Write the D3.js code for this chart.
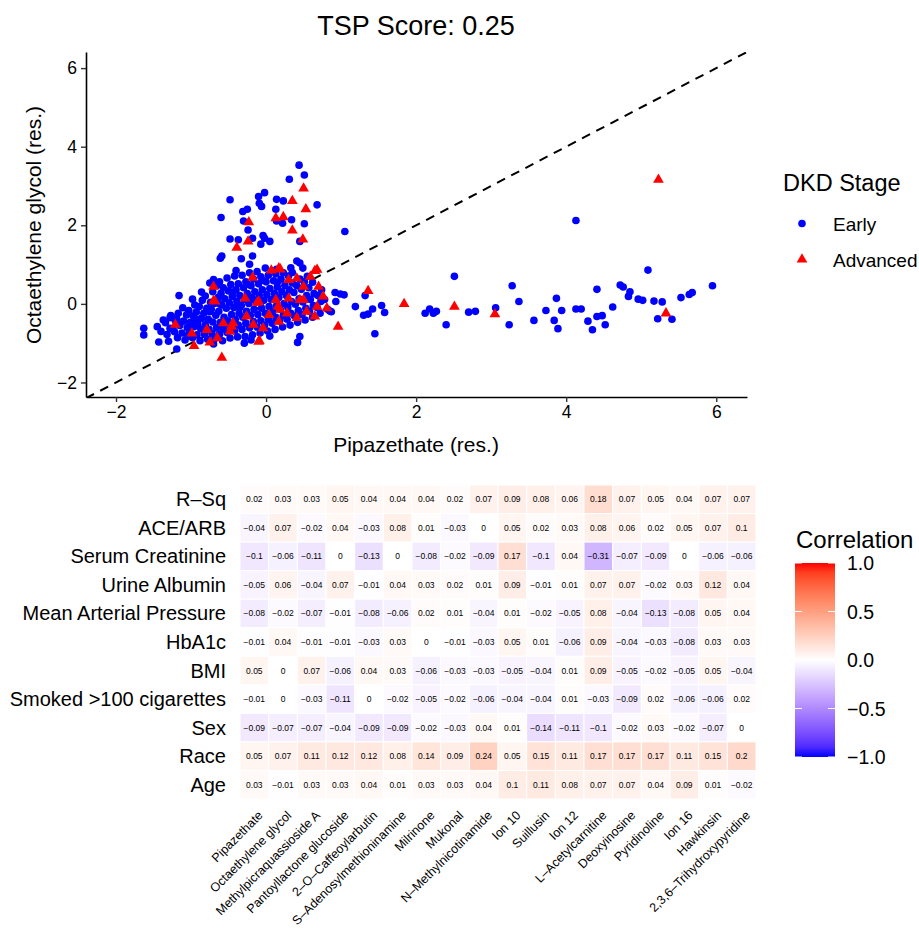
<!DOCTYPE html>
<html lang="en">
<head>
<meta charset="utf-8">
<title>TSP Score</title>
<script src="https://d3js.org/d3.v7.min.js"></script>
<style>
  body { margin: 0; background: white; }
  text { font-family: "Liberation Sans", Arial, Helvetica, sans-serif; fill: black; }
</style>
</head>
<body>
<script>
// ---- scatter data (residuals) ----
var earlyPts = [
  // upper spread
  [0.44,3.53],[0.51,3.28],[0.31,3.17],[-0.02,2.83],[-0.10,2.73],[-0.48,2.65],[0.14,2.66],[0.23,2.62],
  [-0.09,2.56],[-0.06,2.48],[0.68,2.52],[-0.25,2.41],[-0.31,2.35],[0.13,2.41],[-0.60,2.20],[-0.30,2.11],
  [0.14,2.11],[0.22,2.05],[0.34,2.14],[0.51,2.04],[-0.24,1.88],[1.05,1.84],[-0.04,1.74],[-0.02,1.67],
  [-0.48,1.65],[-0.37,1.63],[-0.18,1.67],[0.05,1.59],[-0.07,1.52],[0.45,1.59],[-0.61,1.16],[-0.59,1.22],
  [-0.33,1.15],[-0.18,1.22],[-0.22,1.01],[0.41,1.09],[0.45,1.04],[0.49,0.91],[-0.01,0.91],[-0.12,0.82],[0.14,0.88],
  // left / bottom edges
  [-1.16,0.21],[-0.75,0.53],[-1.63,-0.62],[-1.63,-0.79],[-1.45,-0.58],[-1.43,-0.97],[-1.19,-1.15],
  [-1.37,-0.41],[-1.26,-0.32],[-1.28,-0.35],[-1.19,-0.39],[-1.24,-0.66],[-0.29,-1.00],[0.45,-0.83],[0.42,-0.98],
  // right of the cluster
  [0.92,0.29],[0.99,0.25],[1.04,0.23],[0.93,0.06],[0.85,-0.18],[0.87,-0.20],[1.32,0.21],
  [4.13,2.12],[5.09,0.86],[2.51,0.70],[3.28,0.46],[5.95,0.46],[4.72,0.48],[4.76,0.43],[4.41,0.37],
  [4.85,0.31],[4.83,0.19],[5.68,0.29],[5.64,0.24],[5.53,0.16],[4.96,0.12],[5.02,0.09],[5.17,0.07],
  [5.28,0.05],[3.87,0.14],[3.37,0.06],[4.62,-0.08],[4.13,-0.13],[4.20,-0.13],[3.94,-0.17],[3.73,-0.17],
  [3.06,-0.10],[2.79,-0.19],[2.70,-0.21],[2.18,-0.13],[2.12,-0.24],[2.23,-0.24],[2.27,-0.19],[1.54,-0.04],
  [1.58,-0.22],[1.42,-0.13],[1.36,-0.26],[1.30,-0.29],[1.19,-0.07],[1.45,-0.76],[2.40,-0.53],[3.24,-0.53],
  [3.57,-0.42],[3.84,-0.42],[3.89,-0.63],[4.29,-0.44],[4.35,-0.66],[4.41,-0.32],[4.48,-0.30],[4.52,-0.53],
  [5.22,-0.38],[5.41,-0.39],
  // dense cluster
  [-1.32,-0.78],[-1.28,-0.62],[-1.34,-0.48],[-1.27,-0.30],
  [-1.18,-0.86],[-1.22,-0.71],[-1.15,-0.55],[-1.21,-0.42],[-1.17,-0.24],
  [-1.08,-0.92],[-1.12,-0.74],[-1.05,-0.60],[-1.10,-0.44],[-1.06,-0.28],[-1.11,-0.10],
  [-0.98,-0.86],[-1.02,-0.73],[-0.96,-0.58],[-1.01,-0.47],[-0.97,-0.31],[-1.03,-0.17],[-0.95,-0.03],
  [-0.88,-0.94],[-0.92,-0.79],[-0.87,-0.64],[-0.91,-0.51],[-0.86,-0.37],[-0.93,-0.21],[-0.89,-0.07],[-0.85,0.09],
  [-0.78,-0.90],[-0.82,-0.77],[-0.76,-0.65],[-0.81,-0.53],[-0.77,-0.39],[-0.83,-0.24],[-0.79,-0.11],[-0.74,0.04],[-0.81,0.20],
  [-0.68,-0.88],[-0.72,-0.76],[-0.66,-0.61],[-0.71,-0.46],[-0.67,-0.29],[-0.73,-0.14],[-0.69,0.01],[-0.64,0.16],[-0.71,0.31],[-0.66,0.46],
  [-0.58,-0.94],[-0.62,-0.77],[-0.57,-0.63],[-0.61,-0.47],[-0.56,-0.34],[-0.63,-0.19],[-0.59,-0.03],[-0.55,0.13],[-0.60,0.27],[-0.57,0.41],[-0.62,0.56],
  [-0.48,-0.87],[-0.52,-0.73],[-0.47,-0.57],[-0.51,-0.43],[-0.46,-0.27],[-0.53,-0.11],[-0.49,0.03],[-0.45,0.19],[-0.50,0.33],[-0.47,0.49],[-0.52,0.66],
  [-0.38,-0.84],[-0.42,-0.69],[-0.37,-0.54],[-0.41,-0.39],[-0.36,-0.24],[-0.43,-0.09],[-0.39,0.06],[-0.35,0.21],[-0.40,0.36],[-0.37,0.51],[-0.42,0.71],
  [-0.28,-0.83],[-0.32,-0.65],[-0.27,-0.49],[-0.31,-0.34],[-0.26,-0.19],[-0.33,-0.04],[-0.29,0.11],[-0.25,0.26],[-0.30,0.41],[-0.27,0.56],[-0.32,0.73],
  [-0.18,-0.79],[-0.22,-0.61],[-0.17,-0.45],[-0.21,-0.29],[-0.16,-0.14],[-0.23,0.01],[-0.19,0.16],[-0.15,0.31],[-0.20,0.46],[-0.17,0.63],[-0.22,0.79],
  [-0.08,-0.74],[-0.12,-0.59],[-0.07,-0.43],[-0.11,-0.27],[-0.06,-0.11],[-0.13,0.05],[-0.09,0.21],[-0.05,0.36],[-0.10,0.51],[-0.07,0.69],
  [0.02,-0.69],[-0.02,-0.54],[0.03,-0.39],[-0.01,-0.24],[0.04,-0.07],[-0.03,0.09],[0.01,0.23],[0.05,0.39],[0.00,0.56],[0.03,0.73],
  [0.12,-0.65],[0.08,-0.49],[0.13,-0.34],[0.09,-0.19],[0.14,-0.04],[0.07,0.11],[0.11,0.27],[0.15,0.43],[0.10,0.59],[0.13,0.76],
  [0.22,-0.59],[0.18,-0.44],[0.23,-0.29],[0.19,-0.14],[0.24,0.01],[0.17,0.16],[0.21,0.31],[0.25,0.47],[0.20,0.63],[0.23,0.79],
  [0.32,-0.54],[0.28,-0.39],[0.33,-0.24],[0.29,-0.09],[0.34,0.06],[0.27,0.21],[0.31,0.36],[0.35,0.53],[0.30,0.71],[0.33,0.92],
  [0.42,-0.47],[0.38,-0.31],[0.43,-0.17],[0.39,-0.01],[0.44,0.13],[0.37,0.29],[0.41,0.46],[0.45,0.63],
  [0.52,-0.41],[0.48,-0.27],[0.53,-0.11],[0.49,0.05],[0.54,0.21],[0.47,0.37],[0.51,0.56],
  [0.62,-0.34],[0.58,-0.19],[0.63,-0.04],[0.59,0.11],[0.64,0.26],[0.57,0.41],
  [0.72,-0.24],[0.68,-0.09],[0.73,0.06],[0.69,0.21],[0.74,0.36],
  [0.82,-0.14],[0.78,0.11],
  // extra fill in the cluster body
  [-1.40,-0.70],[-1.05,-0.82],[-0.93,-0.40],[-0.75,-0.20],[-0.55,-0.50],[-0.35,-0.10],[-0.15,0.10],
  [-0.62,0.00],[-0.44,0.30],[-0.25,0.50],[-0.05,0.60],[0.15,0.55],[0.35,0.80],[0.55,0.70],[-0.86,0.30],
  [-0.98,0.12],[-0.70,0.62],[-0.40,0.85],[0.62,0.55],[0.05,-0.82],[-0.20,-0.92],[-0.70,-1.02],[-1.30,-0.95]
];

var advancedPts = [
  [0.50,2.94],[0.35,2.62],[0.53,2.41],[-0.23,2.08],[0.13,2.18],[0.23,2.21],[0.35,1.87],[-0.24,1.59],
  [-0.39,1.43],[0.49,1.64],
  [5.23,3.16],[1.36,0.33],[1.84,0.00],[2.51,-0.07],[3.05,-0.26],[5.33,-0.24],[0.96,-0.58],
  [-0.59,-1.37],[-0.96,-1.07],[-0.10,-0.96],[-0.75,-0.98],[-0.65,-0.87],[-0.70,0.44],[-0.18,0.67],
  [0.17,0.91],[0.07,0.85],[0.68,0.87],[0.30,0.61],[0.59,0.69],[0.41,0.65],[0.70,0.44],[-0.28,0.14],
  [-0.10,0.06],[0.13,0.10],[0.30,0.14],[0.50,0.10],[0.68,-0.07],[0.16,-0.07],[0.04,-0.28],[-0.26,-0.32],
  [-0.44,-0.49],[-0.17,-0.53],[0.17,-0.45],[0.41,-0.36],[0.65,-0.32],[0.54,-0.20],[-1.21,-0.53],[-0.68,0.06],
  [-0.57,-0.49],[-0.04,-0.62],[-0.79,-0.66],[-0.48,-0.70],[-0.99,-0.75],[0.28,-0.24],[0.76,0.19],[0.81,-0.11],
  [0.50,0.44],[-0.70,0.08],[-0.12,0.03],[0.19,0.88],[0.65,0.84],[-0.09,-0.94],[-0.46,-0.58],[0.45,0.10],[0.19,-0.15]
];

var xTicks = [-2, 0, 2, 4, 6];
var yTicks = [-2, 0, 2, 4, 6];

// ---- heatmap data ----
var metabolites = ["Pipazethate", "Octaethylene glycol", "Methylpicraquassioside A", "Pantoyllactone glucoside",
  "2\u2013O\u2013Caffeoylarbutin", "S\u2013Adenosylmethioninamine", "Milrinone", "Mukonal", "N\u2013Methylnicotinamide",
  "Ion 10", "Suillusin", "Ion 12", "L\u2013Acetylcarnitine", "Deoxyinosine", "Pyridinoline", "Ion 16", "Hawkinsin",
  "2,3,6\u2013Trihydroxypyridine"];
var covariates = ["R\u2013Sq", "ACE/ARB", "Serum Creatinine", "Urine Albumin", "Mean Arterial Pressure", "HbA1c",
  "BMI", "Smoked >100 cigarettes", "Sex", "Race", "Age"];
var corrValues = [
  [0.02, 0.03, 0.03, 0.05, 0.04, 0.04, 0.04, 0.02, 0.07, 0.09, 0.08, 0.06, 0.18, 0.07, 0.05, 0.04, 0.07, 0.07],
  [-0.04, 0.07, -0.02, 0.04, -0.03, 0.08, 0.01, -0.03, 0, 0.05, 0.02, 0.03, 0.08, 0.06, 0.02, 0.05, 0.07, 0.1],
  [-0.1, -0.06, -0.11, 0, -0.13, 0, -0.08, -0.02, -0.09, 0.17, -0.1, 0.04, -0.31, -0.07, -0.09, 0, -0.06, -0.06],
  [-0.05, 0.06, -0.04, 0.07, -0.01, 0.04, 0.03, 0.02, 0.01, 0.09, -0.01, 0.01, 0.07, 0.07, -0.02, 0.03, 0.12, 0.04],
  [-0.08, -0.02, -0.07, -0.01, -0.08, -0.06, 0.02, 0.01, -0.04, 0.01, -0.02, -0.05, 0.08, -0.04, -0.13, -0.08, 0.05, 0.04],
  [-0.01, 0.04, -0.01, -0.01, -0.03, 0.03, 0, -0.01, -0.03, 0.05, 0.01, -0.06, 0.09, -0.04, -0.03, -0.08, 0.03, 0.03],
  [0.05, 0, 0.07, -0.06, 0.04, 0.03, -0.06, -0.03, -0.03, -0.05, -0.04, 0.01, 0.09, -0.05, -0.02, -0.05, 0.05, -0.04],
  [-0.01, 0, -0.03, -0.11, 0, -0.02, -0.05, -0.02, -0.06, -0.04, -0.04, 0.01, -0.03, -0.09, 0.02, -0.06, -0.06, 0.02],
  [-0.09, -0.07, -0.07, -0.04, -0.09, -0.09, -0.02, -0.03, 0.04, 0.01, -0.14, -0.11, -0.1, -0.02, 0.03, -0.02, -0.07, 0],
  [0.05, 0.07, 0.11, 0.12, 0.12, 0.08, 0.14, 0.09, 0.24, 0.05, 0.15, 0.11, 0.17, 0.17, 0.17, 0.11, 0.15, 0.2],
  [0.03, -0.01, 0.03, 0.03, 0.04, 0.01, 0.03, 0.03, 0.04, 0.1, 0.11, 0.08, 0.07, 0.07, 0.04, 0.09, 0.01, -0.02]
];
var legendTicks = [1, 0.5, 0, -0.5, -1];

var w = 919, h = 931;
var svg = d3.select("body").append("svg").attr("width", w).attr("height", h);

// ================= scatter =================
var x = d3.scaleLinear().domain([-2.4, 6.41]).range([86, 747]);
var y = d3.scaleLinear().domain([-2.37, 6.41]).range([397, 52]);

svg.append("clipPath").attr("id", "panel")
  .append("rect").attr("x", 86).attr("y", 52).attr("width", 661).attr("height", 345);

// y = x reference line
svg.append("line")
  .attr("clip-path", "url(#panel)")
  .attr("x1", x(-2.4)).attr("y1", y(-2.4))
  .attr("x2", x(6.41)).attr("y2", y(6.41))
  .attr("stroke", "black").attr("stroke-width", 2).attr("stroke-dasharray", "9,7");

var pts = svg.append("g").attr("clip-path", "url(#panel)");
pts.selectAll("circle").data(earlyPts).enter().append("circle")
  .attr("cx", function(d) { return x(d[0]); })
  .attr("cy", function(d) { return y(d[1]); })
  .attr("r", 3.8).attr("fill", "#0000ff");

var tri = d3.symbol().type(d3.symbolTriangle).size(50);
pts.selectAll("path").data(advancedPts).enter().append("path")
  .attr("d", tri)
  .attr("transform", function(d) { return "translate(" + x(d[0]) + "," + y(d[1]) + ")"; })
  .attr("fill", "#ff0000");

// axes
var xAxis = d3.axisBottom(x).tickValues(xTicks).tickSize(5).tickSizeOuter(0).tickPadding(4);
var yAxis = d3.axisLeft(y).tickValues(yTicks).tickSize(5).tickSizeOuter(0).tickPadding(4);
var gx = svg.append("g").attr("transform", "translate(0,397)").call(xAxis);
var gy = svg.append("g").attr("transform", "translate(86,0)").call(yAxis);
[gx, gy].forEach(function(g) {
  g.select(".domain").attr("stroke", "black").attr("stroke-width", 1.6);
  g.selectAll(".tick line").attr("stroke", "#333").attr("stroke-width", 1.4);
  g.selectAll(".tick text").style("font-size", "17.5px").attr("fill", "#222")
    .style("font-family", "'Liberation Sans', Arial, sans-serif");
});

svg.append("text").attr("x", 416).attr("y", 35).attr("text-anchor", "middle")
  .style("font-size", "27px").text("TSP Score: 0.25");
svg.append("text").attr("x", 416).attr("y", 452).attr("text-anchor", "middle")
  .style("font-size", "21px").text("Pipazethate (res.)");
svg.append("text").attr("transform", "translate(41,225) rotate(-90)").attr("text-anchor", "middle")
  .style("font-size", "21px").text("Octaethylene glycol (res.)");

// legend
svg.append("text").attr("x", 783).attr("y", 191).style("font-size", "23.5px").text("DKD Stage");
svg.append("circle").attr("cx", 802).attr("cy", 223.5).attr("r", 3.8).attr("fill", "#0000ff");
svg.append("text").attr("x", 833).attr("y", 230.5).style("font-size", "19px").text("Early");
svg.append("path").attr("d", tri).attr("transform", "translate(802,259.5)").attr("fill", "#ff0000");
svg.append("text").attr("x", 833).attr("y", 266.5).style("font-size", "19px").text("Advanced");

// ================= heatmap =================
var hx = d3.scaleBand().domain(metabolites).range([240, 756]);
var hy = d3.scaleBand().domain(covariates).range([485, 799]);
var col = d3.scaleLinear().domain([-1, 0, 1]).range(["#0000ff", "#ffffff", "#ff0000"])
  .interpolate(d3.interpolateLab);

var cells = [];
covariates.forEach(function(c, i) {
  metabolites.forEach(function(m, j) {
    cells.push({ row: c, col: m, v: corrValues[i][j] });
  });
});

var hm = svg.append("g");
hm.selectAll("rect").data(cells).enter().append("rect")
  .attr("x", function(d) { return hx(d.col); })
  .attr("y", function(d) { return hy(d.row); })
  .attr("width", hx.bandwidth()).attr("height", hy.bandwidth())
  .attr("fill", function(d) { return col(d.v); })
  .attr("stroke", "white").attr("stroke-width", 1);

hm.selectAll("text").data(cells).enter().append("text")
  .attr("x", function(d) { return hx(d.col) + hx.bandwidth() / 2; })
  .attr("y", function(d) { return hy(d.row) + hy.bandwidth() / 2 + 3; })
  .attr("text-anchor", "middle").style("font-size", "8.5px")
  .text(function(d) { return String(d.v).replace("-", "\u2212"); });

// row labels
svg.append("g").selectAll("text").data(covariates).enter().append("text")
  .attr("x", 226).attr("y", function(d) { return hy(d) + hy.bandwidth() / 2 + 7; })
  .attr("text-anchor", "end").style("font-size", "20px")
  .text(function(d) { return d; });

// column labels
svg.append("g").selectAll("text").data(metabolites).enter().append("text")
  .attr("transform", function(d) { return "translate(" + (hx(d) + hx.bandwidth() / 2 + 3) + ",810) rotate(-45)"; })
  .attr("text-anchor", "end").attr("dy", "0.7em").style("font-size", "12.5px")
  .text(function(d) { return d; });

// colour bar
var defs = svg.append("defs");
var grad = defs.append("linearGradient").attr("id", "cbar")
  .attr("x1", 0).attr("y1", 1).attr("x2", 0).attr("y2", 0);
d3.range(0, 1.0001, 0.05).forEach(function(t) {
  grad.append("stop").attr("offset", t).attr("stop-color", col(-1 + 2 * t));
});
var cy = d3.scaleLinear().domain([-1, 1]).range([757, 563]);
svg.append("rect").attr("x", 795).attr("y", 563).attr("width", 40).attr("height", 194)
  .attr("fill", "url(#cbar)");
legendTicks.forEach(function(t) {
  svg.append("line").attr("x1", 795).attr("x2", 802).attr("y1", cy(t)).attr("y2", cy(t))
    .attr("stroke", "white").attr("stroke-width", 1);
  svg.append("line").attr("x1", 828).attr("x2", 835).attr("y1", cy(t)).attr("y2", cy(t))
    .attr("stroke", "white").attr("stroke-width", 1);
  svg.append("text").attr("x", 847).attr("y", cy(t) + 7).style("font-size", "19.5px")
    .text(d3.format(".1f")(t));
});
svg.append("text").attr("x", 796).attr("y", 548).style("font-size", "24px").text("Correlation");
</script>
</body>
</html>
